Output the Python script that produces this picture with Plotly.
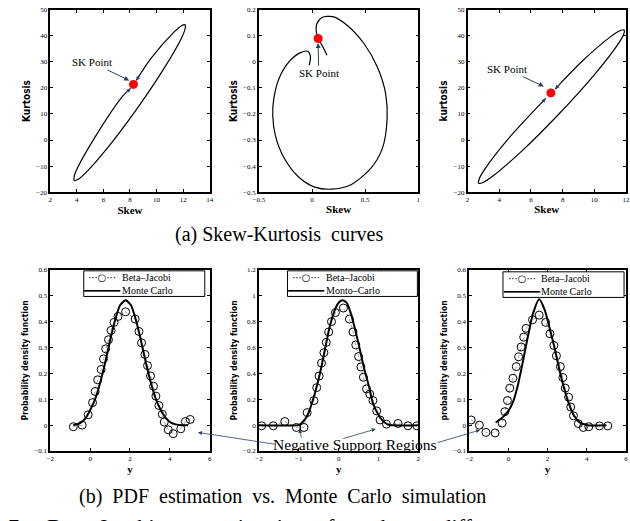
import plotly.graph_objects as go

# ---------------- (a) Skew-Kurtosis curves ----------------
sk1_skew = [8.47, 9.55, 11.29, 11.85, 12.14, 12.15, 11.88, 10.56, 8.56, 6.40, 4.66, 4.10, 3.81, 3.80, 4.07, 5.38, 7.39, 8.04]
sk1_kurt = [22.9, 31.17, 41.36, 43.84, 44.3, 42.76, 39.24, 27.51, 12.25, -2.43, -12.62, -15.11, -15.59, -14.02, -10.50, 1.23, 16.49, 19.83]
sk1_pt_skew = [8.26]
sk1_pt_kurt = [21.37]

sk2_skew = [-0.027, -0.015, -0.042, -0.114, -0.216, -0.309, -0.361, -0.370, -0.345, -0.268, -0.129, 0.026, 0.180,
            0.366, 0.552, 0.660, 0.706, 0.691, 0.613, 0.489, 0.335, 0.196, 0.094, 0.044, 0.041, 0.057, 0.094, 0.140]
sk2_kurt = [-0.012, 0.020, 0.041, 0.035, 0.001, -0.062, -0.144, -0.207, -0.283, -0.365, -0.441, -0.481, -0.489,
            -0.472, -0.409, -0.334, -0.220, -0.119, -0.018, 0.070, 0.139, 0.174, 0.171, 0.146, 0.114, 0.090, 0.064, 0.026]
sk2_pt_skew = [0.057]
sk2_pt_kurt = [0.090]

sk3_skew = [7.53, 9.18, 11.03, 11.61, 11.88, 11.85, 11.51, 10.01, 7.78, 5.42, 3.56, 2.98, 2.70, 2.74, 3.08, 4.58, 6.93]
sk3_kurt = [19.6, 29.98, 39.74, 42.01, 42.3, 40.57, 36.97, 25.16, 10.08, -4.27, -14.03, -16.30, -16.59, -14.87, -11.26, 0.54, 16.0]
sk3_pt_skew = [7.26]
sk3_pt_kurt = [18.1]

# ---------------- (b) PDF estimation vs Monte Carlo ----------------
pdf1_mc_y = [-0.85, -0.5, -0.25, 0.0, 0.25, 0.5, 0.75, 1.0, 1.25, 1.5, 1.78, 2.05, 2.3, 2.55, 2.8, 3.05, 3.3, 3.55, 3.8, 4.05, 4.3, 4.55, 4.9]
pdf1_mc_p = [0.0, 0.008, 0.025, 0.058, 0.10, 0.163, 0.24, 0.327, 0.405, 0.463, 0.483, 0.463, 0.405, 0.327, 0.24, 0.163, 0.10, 0.058, 0.027, 0.01, 0.003, 0.0, 0.0]
pdf1_bj_y = [-0.84, -0.40, -0.10, 0.12, 0.25, 0.38, 0.55, 0.67, 0.78, 0.92, 1.05, 1.20, 1.40, 1.78,
             2.26, 2.45, 2.58, 2.75, 2.88, 3.03, 3.18, 3.30, 3.45, 3.62, 3.72, 3.92, 4.17, 4.55, 4.78, 5.02]
pdf1_bj_p = [-0.006, 0.0, 0.04, 0.087, 0.13, 0.175, 0.215, 0.256, 0.295, 0.33, 0.366, 0.397, 0.42, 0.438,
             0.41, 0.362, 0.318, 0.273, 0.23, 0.19, 0.15, 0.112, 0.076, 0.042, 0.012, -0.018, -0.033, -0.014, 0.014, 0.022]

pdf2_mc_y = [-2.0, -1.02, -0.94, -0.84, -0.76, -0.65, -0.54, -0.44, -0.34, -0.24, -0.11, 0.01, 0.095, 0.20, 0.30,
             0.40, 0.51, 0.63, 0.76, 0.86, 0.98, 1.11, 1.25, 2.0]
pdf2_mc_p = [0.0, 0.0, 0.013, 0.046, 0.09, 0.19, 0.31, 0.44, 0.59, 0.74, 0.88, 0.95, 0.966, 0.946, 0.87,
             0.756, 0.616, 0.45, 0.30, 0.17, 0.09, 0.033, 0.003, 0.0]
pdf2_bj_y = [-1.93, -1.64, -1.35, -1.06, -0.87, -0.79, -0.62, -0.55, -0.49, -0.43, -0.37, -0.31, -0.25, -0.18, -0.08, 0.12,
             0.27, 0.36, 0.43, 0.50, 0.56, 0.62, 0.70, 0.78, 0.86, 0.955, 1.04, 1.20, 1.49, 1.74, 1.96]
pdf2_bj_p = [-0.005, -0.005, 0.028, -0.018, -0.018, 0.097, 0.19, 0.29, 0.38, 0.48, 0.56, 0.64, 0.72, 0.80, 0.87, 0.905,
             0.82, 0.72, 0.62, 0.53, 0.45, 0.37, 0.28, 0.24, 0.19, 0.11, 0.04, 0.008, 0.013, -0.005, -0.005]

pdf3_mc_y = [-0.65, -0.3, 0.0, 0.25, 0.5, 0.75, 1.0, 1.25, 1.57, 1.85, 2.1, 2.35, 2.6, 2.85, 3.1, 3.35, 3.65, 4.05, 5.0]
pdf3_mc_p = [0.01, 0.03, 0.055, 0.093, 0.16, 0.25, 0.345, 0.43, 0.486, 0.445, 0.375, 0.30, 0.215, 0.14, 0.08, 0.036, 0.01, 0.0, 0.0]
pdf3_bj_y = [-1.9, -1.48, -1.15, -0.68, -0.32, -0.18, -0.05, 0.07, 0.23, 0.40, 0.52, 0.65, 0.78, 0.90, 1.23, 1.57,
             1.90, 2.12, 2.32, 2.45, 2.65, 2.78, 2.90, 3.07, 3.18, 3.32, 3.57, 3.82, 4.10, 4.65, 5.07]
pdf3_bj_p = [0.02, 0.0, -0.028, -0.03, 0.008, 0.052, 0.095, 0.143, 0.181, 0.226, 0.264, 0.302, 0.34, 0.374, 0.407, 0.425,
             0.397, 0.353, 0.308, 0.268, 0.226, 0.184, 0.143, 0.108, 0.07, 0.036, 0.006, -0.009, -0.006, -0.003, -0.003]

legend_bj = ["Beta\u2013Jacobi", "Beta\u2013Jacobi", "Beta\u2013Jacobi"]
legend_mc = ["Monte Carlo", "Monto\u2013Carlo", "Monte Carlo"]

# ---------------- styling ----------------
SERIF = "Liberation Serif, Times New Roman, serif"
NARROW = "Liberation Sans Narrow, DejaVu Sans Condensed, Arial Narrow, sans-serif"
W, H = 630, 521
NB = "\u00a0"


def dom_x(a, b):
    return [a / W, min(b / W, 1.0)]


def dom_y(top, bot):
    return [1 - bot / H, 1 - top / H]


def ax_style(rng, dtick, dom, anchor, title, tfont, standoff):
    return dict(range=rng, dtick=dtick, tick0=0, domain=dom, anchor=anchor,
                showline=True, linecolor="black", linewidth=1.5, mirror="ticks",
                ticks="inside", ticklen=3, tickwidth=1, tickcolor="black",
                showgrid=False, zeroline=False,
                tickfont=dict(family=SERIF, size=7, color="black"),
                title=dict(text=title, font=tfont, standoff=standoff))


xt_font = dict(family=SERIF, size=11, color="black")
kurt_font = dict(family=NARROW, size=10, color="black")
pdf_font = dict(family=NARROW, size=8.5, color="black")

top = dom_y(6, 191)
bot = dom_y(270, 454)

layout = dict(
    width=W, height=H, margin=dict(l=0, r=0, t=0, b=0),
    paper_bgcolor="white", plot_bgcolor="white", showlegend=False,
    xaxis=ax_style([2, 14], 2, dom_x(45, 207), "y", "<b>Skew</b>", xt_font, 2),
    yaxis=ax_style([-20, 50], 10, top, "x", "<b>Kurtosis</b>", kurt_font, 4),
    xaxis2=ax_style([-0.5, 1], 0.5, dom_x(257, 419), "y2", "<b>Skew</b>", xt_font, 2),
    yaxis2=ax_style([-0.5, 0.2], 0.1, top, "x2", "<b>Kurtosis</b>", kurt_font, 4),
    xaxis3=ax_style([2, 12], 2, dom_x(469, 630), "y3", "<b>Skew</b>", xt_font, 2),
    yaxis3=ax_style([-20, 50], 10, top, "x3", "<b>kurtosis</b>", kurt_font, 4),
    xaxis4=ax_style([-2, 6], 2, dom_x(45, 207), "y4", "<b>y</b>", xt_font, 1),
    yaxis4=ax_style([-0.1, 0.6], 0.1, bot, "x4", "<b>Probability density function</b>", pdf_font, 4),
    xaxis5=ax_style([-2, 2], 1, dom_x(257, 419), "y5", "<b>y</b>", xt_font, 1),
    yaxis5=ax_style([-0.2, 1.2], 0.2, bot, "x5", "<b>Probability density function</b>", pdf_font, 4),
    xaxis6=ax_style([-2, 6], 2, dom_x(470.7, 630), "y6", "<b>y</b>", xt_font, 1),
    yaxis6=ax_style([-0.1, 0.6], 0.1, bot, "x6", "<b>probability density function</b>", pdf_font, 4),
)

fig = go.Figure(layout=layout)

curve_line = dict(color="black", width=1.2, shape="spline", smoothing=0.8)
for i, (sx, sy, px, py) in enumerate([(sk1_skew, sk1_kurt, sk1_pt_skew, sk1_pt_kurt),
                                       (sk2_skew, sk2_kurt, sk2_pt_skew, sk2_pt_kurt),
                                       (sk3_skew, sk3_kurt, sk3_pt_skew, sk3_pt_kurt)]):
    xa = "x" if i == 0 else f"x{i+1}"
    ya = "y" if i == 0 else f"y{i+1}"
    fig.add_trace(go.Scatter(x=sx, y=sy, mode="lines", line=curve_line, xaxis=xa, yaxis=ya,
                             name="Skew-Kurtosis curve", showlegend=False))
    fig.add_trace(go.Scatter(x=px, y=py, mode="markers", marker=dict(color="red", size=9),
                             xaxis=xa, yaxis=ya, name="SK Point", showlegend=False))

pdf_sets = [(pdf1_bj_y, pdf1_bj_p, pdf1_mc_y, pdf1_mc_p),
            (pdf2_bj_y, pdf2_bj_p, pdf2_mc_y, pdf2_mc_p),
            (pdf3_bj_y, pdf3_bj_p, pdf3_mc_y, pdf3_mc_p)]
for j, (by, bp, my, mp) in enumerate(pdf_sets):
    xa = f"x{j+4}"
    ya = f"y{j+4}"
    fig.add_trace(go.Scatter(x=by, y=bp, mode="lines+markers", name=legend_bj[j], showlegend=False,
                             line=dict(color="#888888", width=0.8, dash="dot"),
                             marker=dict(symbol="circle-open", size=8, color="black", line=dict(width=1)),
                             xaxis=xa, yaxis=ya))
    fig.add_trace(go.Scatter(x=my, y=mp, mode="lines", name=legend_mc[j], showlegend=False,
                             line=dict(color="black", width=2, shape="spline", smoothing=0.6),
                             xaxis=xa, yaxis=ya))

ann = []
shapes = []
sk_font = dict(family=SERIF, size=11, color="black")
# SK point labels
ann.append(dict(xref="x", yref="y", axref="x", ayref="y", x=7.94, y=22.9, ax=5.14, ay=29.8,
                text="SK Point", font=sk_font, showarrow=True, arrowhead=2, arrowsize=1, arrowwidth=1, standoff=0))
ann.append(dict(xref="x2", yref="y2", axref="x2", ayref="y2", x=0.057, y=0.073, ax=0.063, ay=-0.043,
                text="SK Point", font=sk_font, showarrow=True, arrowhead=2, arrowsize=1, arrowwidth=1, standoff=0))
ann.append(dict(xref="x3", yref="y3", axref="x3", ayref="y3", x=6.81, y=20.6, ax=4.49, ay=27.2,
                text="SK Point", font=sk_font, showarrow=True, arrowhead=2, arrowsize=1, arrowwidth=1, standoff=0))
# curve end arrowheads
for (xr, yr, hx, hy, tx, ty) in [("x", "y", 8.47, 22.9, 9.07, 27.5), ("x", "y", 8.04, 19.83, 7.6, 17.6),
                                 ("x3", "y3", 7.53, 19.6, 8.19, 23.75), ("x3", "y3", 6.93, 16.0, 6.34, 12.1)]:
    ann.append(dict(xref=xr, yref=yr, axref=xr, ayref=yr, x=hx, y=hy, ax=tx, ay=ty, text="",
                    showarrow=True, arrowhead=2, arrowsize=0.8, arrowwidth=1, standoff=0))
# Negative support arrows
for (xr, yr, hx, hy, dx, dy) in [("x4", "y4", 5.41, -0.028, 78, 12), ("x5", "y5", -0.98, -0.03, 2, 10),
                                 ("x5", "y5", 0.93, -0.03, -34, 10), ("x6", "y6", -1.45, -0.019, -44, 13)]:
    ann.append(dict(xref=xr, yref=yr, x=hx, y=hy, ax=dx, ay=dy, text="",
                    showarrow=True, arrowhead=2, arrowsize=1, arrowwidth=0.8, standoff=0))
ann.append(dict(xref="paper", yref="paper", x=355 / W, y=1 - 447 / H, xanchor="center", yanchor="middle",
                text="Negative Support Regions",
                showarrow=False, font=dict(family=SERIF, size=15.5, color="black")))

# legends (MATLAB style boxes)
LEG_H = 26
for j, (L, R, T) in enumerate([(79, 202, 271), (286, 418, 271), (505, 628, 272)]):
    shapes.append(dict(type="rect", xref="paper", yref="paper", x0=L / W, x1=R / W,
                       y0=1 - (T + LEG_H) / H, y1=1 - T / H, line=dict(color="black", width=1),
                       fillcolor="white", layer="above"))
    ann.append(dict(xref="paper", yref="paper", x=(L + 38) / W, y=1 - (T + LEG_H / 2) / H,
                    xanchor="left", yanchor="middle", align="left", borderpad=0,
                    text=legend_bj[j] + "<br>" + legend_mc[j], showarrow=False,
                    font=dict(family=SERIF, size=10, color="black")))
    ann.append(dict(xref="paper", yref="paper", x=(L + 19) / W, y=1 - (T + LEG_H / 2) / H,
                    xanchor="center", yanchor="middle", align="center", borderpad=0,
                    text="\u00b7\u00b7\u00b7\u25cb\u00b7\u00b7\u00b7<br>\u2501\u2501\u2501\u2501\u2501\u2501",
                    showarrow=False, font=dict(family="DejaVu Sans", size=10, color="black")))

# captions
ann.append(dict(xref="paper", yref="paper", x=277 / W, y=1 - 234 / H, xanchor="center", yanchor="middle",
                text="(a) Skew-Kurtosis" + NB + " curves",
                showarrow=False, font=dict(family=SERIF, size=20, color="black")))
cap_b = (" " + NB).join(["(b)", "PDF", "estimation", "vs.", "Monte", "Carlo", "simulation"])
ann.append(dict(xref="paper", yref="paper", x=281 / W, y=1 - 500 / H, xanchor="center", yanchor="middle",
                text=cap_b, showarrow=False, font=dict(family=SERIF, size=20, color="black")))
cut = (" " + NB * 3).join(["7:", "Beta\u2013Jacobi", "approximation", "for", "three", "different"])
ann.append(dict(xref="paper", yref="paper", x=0, y=1 - 516 / H, xanchor="left", yanchor="top",
                text=cut, showarrow=False, font=dict(family=SERIF, size=22, color="black")))

fig.update_layout(annotations=ann, shapes=shapes)

fig.write_html("out.html")
